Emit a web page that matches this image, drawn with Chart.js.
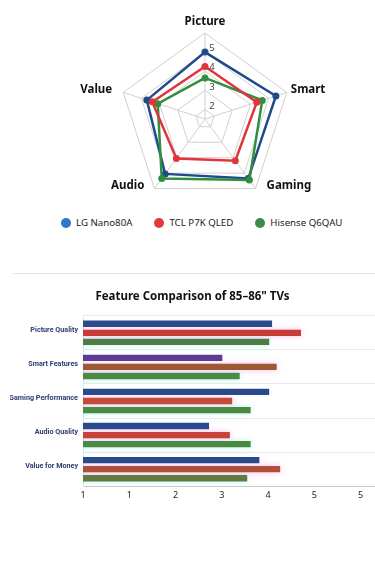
<!DOCTYPE html>
<html>
<head>
<meta charset="utf-8">
<script src="https://cdn.jsdelivr.net/npm/chart.js@4.4.1/dist/chart.umd.min.js"></script>
<style>
  body { margin: 0; background: #fff; width: 375px; height: 563px; overflow: hidden; font-family: 'Noto Sans', sans-serif; }
  #radarBox { position: absolute; left: 0; top: 0; width: 375px; height: 215px; }
  #legend { position: absolute; left: 61px; top: 215px; display: flex; gap: 22px; font-size: 9.7px; line-height: 15px; color: #222; white-space: nowrap; }
  #legend span { display: flex; align-items: center; }
  #legend i { display: inline-block; width: 10px; height: 10px; border-radius: 50%; margin-right: 5px; }
  #sep { position: absolute; left: 13px; top: 273px; width: 362px; border-top: 1.5px solid #e4e4e4; }
  #barBox { position: absolute; left: 0; top: 278px; width: 375px; height: 230px; }
</style>
</head>
<body>
<div id="radarBox"><canvas id="radarChart"></canvas></div>
<div id="legend"></div>
<div id="sep"></div>
<div id="barBox"><canvas id="barChart"></canvas></div>
<script>
// radar data
const radarAxes = ['Picture', 'Smart', 'Gaming', 'Audio', 'Value'];
const tvNames = ['LG Nano80A', 'TCL P7K QLED', 'Hisense Q6QAU'];
const lgRadar = [5.0, 5.4, 5.35, 5.05, 4.7];
const tclRadar = [4.25, 4.35, 4.2, 4.05, 4.4];
const hisenseRadar = [3.65, 4.65, 5.45, 5.35, 4.1];
const radarTicks = [1.5, 2, 3, 4, 5, 6];
const radarTickLabels = ['', '2', '3', '4', '5', ''];

// bar data
const features = ['Picture Quality', 'Smart Features', 'Gaming Performance', 'Audio Quality', 'Value for Money'];
const lgScores = [4.27, 3.41, 4.22, 3.18, 4.05];
const tclScores = [4.77, 4.35, 3.58, 3.54, 4.41];
const hisenseScores = [4.22, 3.71, 3.90, 3.90, 3.84];
const barTicks = [1, 1.8, 2.6, 3.4, 4.2, 5.0, 5.8];
const barTickLabels = ['1', '1', '2', '3', '4', '5', '5'];

// colours
const lineColors = ['#1f4b8c', '#e0353b', '#2f8f3f'];
const legendColors = ['#2c7bc9', '#df3a3f', '#3a8e48'];
const lgBarColors = ['#2b4a8b', '#5b3c94', '#2b4a8b', '#2b4a8b', '#2b4a8b'];
const tclBarColors = ['#c63b36', '#9c5a34', '#c44a3a', '#c8423a', '#b0503a'];
const hisenseBarColors = ['#4e7d42', '#4a8a40', '#4a8a40', '#4a8a40', '#617a40'];
const glowColors = [null, 'rgba(255,105,210,0.45)', 'rgba(90,230,230,0.4)'];

Chart.defaults.font.family = "'Noto Sans', sans-serif";

// html legend
const legendBox = document.getElementById('legend');
tvNames.forEach((name, i) => {
  const item = document.createElement('span');
  const dot = document.createElement('i');
  dot.style.background = legendColors[i];
  item.appendChild(dot);
  item.appendChild(document.createTextNode(name));
  legendBox.appendChild(item);
});

const radarText = {
  id: 'radarText',
  afterDraw(chart) {
    const scale = chart.scales.r;
    const ctx = chart.ctx;
    ctx.save();
    ctx.textBaseline = 'middle';
    ctx.textAlign = 'center';
    ctx.fillStyle = '#444';
    ctx.font = "9.5px 'Noto Sans'";
    radarTicks.forEach((v, i) => {
      if (!radarTickLabels[i]) return;
      const d = scale.getDistanceFromCenterForValue(v);
      ctx.fillText(radarTickLabels[i], scale.xCenter + 7, scale.yCenter - d - 3.5);
    });
    ctx.fillStyle = '#111';
    ctx.font = "bold 11.5px 'Noto Sans'";
    radarAxes.forEach((name, i) => {
      const p = scale.getPointPosition(i, scale.drawingArea);
      if (i === 0) {
        ctx.textAlign = 'center';
        ctx.fillText(name, p.x, p.y - 11);
      } else if (p.x > scale.xCenter) {
        ctx.textAlign = 'left';
        ctx.fillText(name, p.x + (i === 1 ? 4 : 11), p.y - 3);
      } else {
        ctx.textAlign = 'right';
        ctx.fillText(name, p.x - (i === 4 ? 11 : 10), p.y - 3);
      }
    });
    ctx.restore();
  }
};

function radarSet(i, data, order) {
  return {
    label: tvNames[i],
    data: data,
    order: order,
    fill: false,
    borderColor: lineColors[i],
    backgroundColor: lineColors[i],
    borderWidth: 2.5,
    pointRadius: 3.5,
    pointBorderWidth: 0,
    pointBackgroundColor: lineColors[i]
  };
}

new Chart(document.getElementById('radarChart'), {
  type: 'radar',
  data: {
    labels: radarAxes,
    datasets: [radarSet(0, lgRadar, 2), radarSet(1, tclRadar, 0), radarSet(2, hisenseRadar, 1)]
  },
  options: {
    responsive: true,
    maintainAspectRatio: false,
    animation: false,
    layout: { padding: { left: 40, right: 5, top: 32.6, bottom: 9.6 } },
    plugins: { legend: { display: false }, tooltip: { enabled: false } },
    scales: {
      r: {
        min: 1.5,
        max: 6,
        afterBuildTicks: s => { s.ticks = radarTicks.map(v => ({ value: v })); },
        ticks: { display: false },
        pointLabels: { display: false },
        grid: { color: '#d0d0d0' },
        angleLines: { color: '#d0d0d0' }
      }
    }
  },
  plugins: [radarText]
});

const barGlow = {
  id: 'barGlow',
  beforeDatasetDraw(chart, args) {
    const ctx = chart.ctx;
    ctx.save();
    if (glowColors[args.index]) {
      ctx.shadowColor = glowColors[args.index];
      ctx.shadowBlur = 6;
    }
  },
  afterDatasetDraw(chart) {
    chart.ctx.restore();
  }
};

new Chart(document.getElementById('barChart'), {
  type: 'bar',
  data: {
    labels: features,
    datasets: [
      { label: tvNames[0], data: lgScores, backgroundColor: lgBarColors },
      { label: tvNames[1], data: tclScores, backgroundColor: tclBarColors },
      { label: tvNames[2], data: hisenseScores, backgroundColor: hisenseBarColors }
    ]
  },
  options: {
    indexAxis: 'y',
    responsive: true,
    maintainAspectRatio: false,
    animation: false,
    datasets: { bar: { categoryPercentage: 0.8, barPercentage: 0.7 } },
    layout: { padding: { left: 10, right: 0, top: 0, bottom: 3 } },
    plugins: {
      legend: { display: false },
      tooltip: { enabled: false },
      title: {
        display: true,
        text: 'Feature Comparison of 85–86" TVs',
        color: '#111',
        font: { size: 11.5, weight: 'bold' },
        padding: { top: 12, bottom: 12 }
      }
    },
    scales: {
      x: {
        min: 1,
        max: 6.05,
        afterBuildTicks: s => { s.ticks = barTicks.map(v => ({ value: v })); },
        ticks: { callback: (v, i) => barTickLabels[i], color: '#222', font: { size: 9 }, padding: 4, maxRotation: 0, autoSkip: false },
        grid: { display: false, drawTicks: false },
        border: { color: '#c8c8c8' }
      },
      y: {
        afterFit: s => { s.width = 73; },
        ticks: { color: '#2b3a73', font: { family: 'Roboto', size: 7.2, weight: 'bold' }, padding: 5, labelOffset: -3 },
        grid: { color: '#e8e8e8', drawTicks: false },
        border: { color: '#cdeef0' }
      }
    }
  },
  plugins: [barGlow]
});
</script>
</body>
</html>
